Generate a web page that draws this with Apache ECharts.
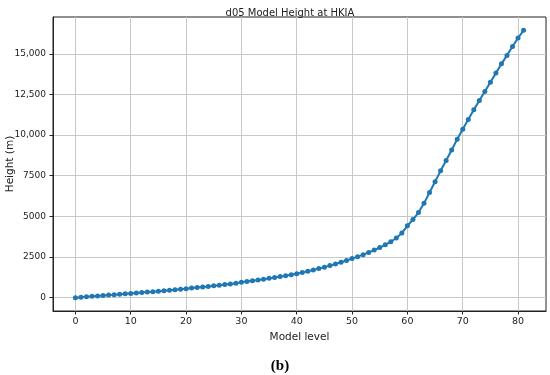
<!DOCTYPE html>
<html>
<head>
<meta charset="utf-8">
<script src="https://cdn.jsdelivr.net/npm/echarts@6/dist/echarts.min.js"></script>
<style>
html,body{margin:0;padding:0;background:#fff;}
#chart{width:550px;height:375px;}
</style>
</head>
<body>
<div id="chart"></div>
<script>
const chartTitle = 'd05 Model Height at HKIA';
const panelLabel = '(b)';
const xName = 'Model level';
const yName = 'Height (m)';
const xTicks = [0, 10, 20, 30, 40, 50, 60, 70, 80];
const yTicks = [0, 2500, 5000, 7500, 10000, 12500, 15000];
const modelLevels = [
  0,1,2,3,4,5,6,7,8,9,
  10,11,12,13,14,15,16,17,18,19,
  20,21,22,23,24,25,26,27,28,29,
  30,31,32,33,34,35,36,37,38,39,
  40,41,42,43,44,45,46,47,48,49,
  50,51,52,53,54,55,56,57,58,59,
  60,61,62,63,64,65,66,67,68,69,
  70,71,72,73,74,75,76,77,78,79,
  80,81
];
const heights = [
  0,25,52,78,104,130,155,180,206,232,
  258,285,312,340,368,397,427,457,488,520,
  552,586,620,655,691,728,766,805,845,886,
  945,990,1037,1085,1135,1185,1238,1293,1350,1410,
  1475,1545,1620,1700,1785,1875,1970,2070,2175,2285,
  2400,2520,2645,2780,2925,3080,3250,3440,3670,3970,
  4420,4800,5230,5800,6470,7130,7800,8430,9080,9740,
  10360,10950,11550,12120,12680,13250,13810,14380,14900,15450,
  15970,16440
];

const xMin = -4.05, xMax = 85.05;
const yMax0 = Math.max(...heights);
const yMin = -0.05 * yMax0, yMax = yMax0 * 1.05;

const fmtY = v => v >= 10000 ? v.toLocaleString('en-US') : String(v);

const chart = echarts.init(document.getElementById('chart'), null, {renderer: 'canvas'});
chart.setOption({
  animation: false,
  backgroundColor: '#fff',
  textStyle: {fontFamily: 'DejaVu Sans'},
  title: [
    {text: chartTitle, left: 285, top: 3, textAlign: 'center',
     textStyle: {fontSize: 10, fontWeight: 'normal', color: '#222', fontFamily: 'DejaVu Sans'}},
    {text: panelLabel, left: 275, top: 354, textAlign: 'center',
     textStyle: {fontSize: 15, fontWeight: 'bold', color: '#000', fontFamily: 'Liberation Serif'}}
  ],
  grid: {left: 53, right: 4, top: 17, bottom: 64, containLabel: false, outerBoundsMode: 'none',
         show: true, borderColor: '#222', borderWidth: 1, backgroundColor: 'transparent'},
  xAxis: {
    type: 'value', min: xMin, max: xMax,
    name: xName, nameLocation: 'middle', nameGap: 20,
    nameTextStyle: {fontSize: 10.5, color: '#222', fontFamily: 'DejaVu Sans'},
    axisLine: {show: true, onZero: false, lineStyle: {color: '#222'}},
    axisTick: {show: true, inside: false, customValues: xTicks, length: 3.5, lineStyle: {color: '#222'}},
    axisLabel: {customValues: xTicks, fontSize: 9.5, color: '#222', margin: 6, fontFamily: 'DejaVu Sans'},
    splitLine: {show: true, lineStyle: {color: '#c8c8c8', width: 1}}
  },
  yAxis: {
    type: 'value', min: yMin, max: yMax,
    name: yName, nameLocation: 'middle', nameGap: 37, nameRotate: 90, nameMoveOverlap: false,
    nameTextStyle: {fontSize: 10.5, color: '#222', fontFamily: 'DejaVu Sans'},
    axisLine: {show: true, onZero: false, lineStyle: {color: '#222'}},
    axisTick: {show: true, inside: false, customValues: yTicks, length: 3.5, lineStyle: {color: '#222'}},
    axisLabel: {customValues: yTicks, fontSize: 9, color: '#222', margin: 7, formatter: fmtY, fontFamily: 'DejaVu Sans'},
    splitLine: {show: true, lineStyle: {color: '#c8c8c8', width: 1}}
  },
  series: [{
    type: 'line',
    data: modelLevels.map((x, i) => [x, heights[i]]),
    symbol: 'circle', symbolSize: 5, showSymbol: true,
    lineStyle: {color: '#1f77b4', width: 2},
    itemStyle: {color: '#1f77b4'}
  }]
});
</script>
</body>
</html>
